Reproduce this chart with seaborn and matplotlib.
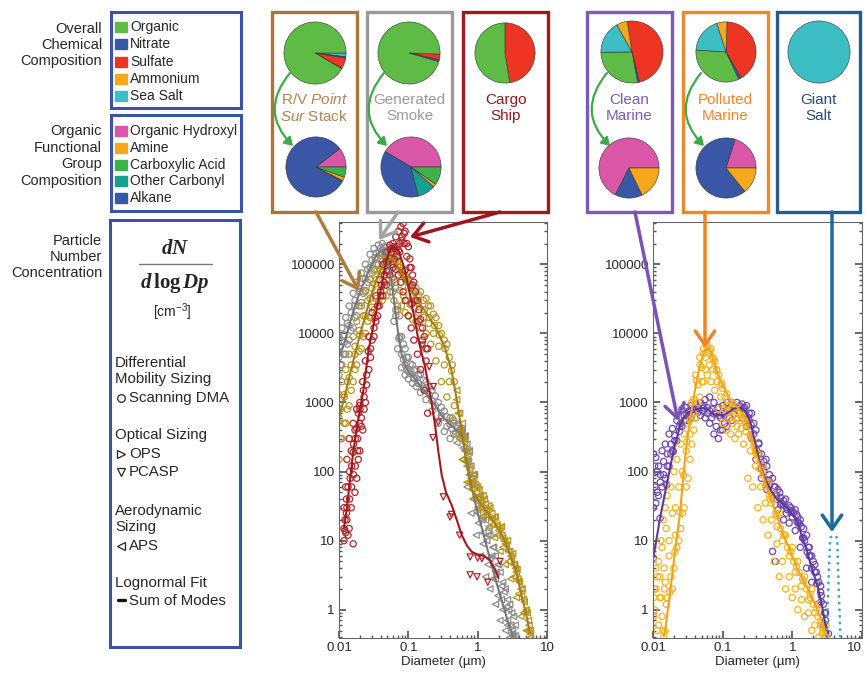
import pandas as pd
import seaborn as sns
import matplotlib.pyplot as plt
from matplotlib.patches import Rectangle, FancyArrowPatch
from matplotlib.lines import Line2D
from matplotlib.ticker import NullFormatter

# ---------------- pie chart data ----------------
overall_names = ['Organic', 'Nitrate', 'Sulfate', 'Ammonium', 'Sea Salt']
overall_colors = ['#5DBB46', '#3A57A7', '#EE3524', '#F6A81C', '#3DBEC5']
group_names = ['Organic Hydroxyl', 'Amine', 'Carboxylic Acid', 'Other Carbonyl', 'Alkane']
group_colors = ['#D957A6', '#F6A81C', '#3DB14A', '#16A08E', '#3A57A7']

# overall composition, listed clockwise from start angle: (component, percent)
rv_overall = [('Sea Salt', 2.0), ('Nitrate', 0.7), ('Sulfate', 5.5), ('Ammonium', 0.3), ('Organic', 91.5)]
smoke_overall = [('Sulfate', 3.0), ('Nitrate', 1.0), ('Organic', 96.0)]
cargo_overall = [('Sulfate', 47.5), ('Organic', 52.5)]
clean_overall = [('Sulfate', 48.6), ('Nitrate', 1.0), ('Organic', 27.8), ('Sea Salt', 17.0), ('Ammonium', 5.6)]
polluted_overall = [('Sulfate', 41.0), ('Nitrate', 1.5), ('Organic', 33.0), ('Sea Salt', 19.0), ('Ammonium', 5.5)]
salt_overall = [('Sea Salt', 100.0)]

# functional groups, listed counter-clockwise from 0 deg
rv_groups = [('Organic Hydroxyl', 10.5), ('Alkane', 81.5), ('Other Carbonyl', 0.5), ('Amine', 2.0), ('Carboxylic Acid', 5.5)]
smoke_groups = [('Organic Hydroxyl', 41.4), ('Alkane', 37.5), ('Other Carbonyl', 9.7), ('Amine', 1.7), ('Carboxylic Acid', 9.7)]
clean_groups = [('Organic Hydroxyl', 67.5), ('Alkane', 14.7), ('Amine', 17.8)]
polluted_groups = [('Organic Hydroxyl', 20.2), ('Alkane', 65.6), ('Amine', 14.2)]

# ---------------- size distributions (diameter um, dN/dlogDp cm-3) ----------------
# Generated Smoke
smoke_fit_d = [0.01, 0.012, 0.014, 0.017, 0.02, 0.024, 0.028, 0.033, 0.038, 0.043, 0.048, 0.054, 0.06, 0.066,
               0.073, 0.08, 0.09, 0.1, 0.12, 0.14, 0.17, 0.22, 0.3, 0.4, 0.5, 0.6, 0.7, 0.8, 1.0, 1.2, 1.5, 1.8,
               2.2, 2.7, 3.2]
smoke_fit_v = [4500, 7500, 13000, 25000, 40000, 62000, 90000, 125000, 150000, 160000, 130000, 80000, 40000,
               18000, 8500, 5000, 3500, 2800, 2300, 1900, 1500, 1050, 650, 480, 400, 320, 140, 65, 25, 13, 5.5,
               2.8, 1.4, 0.7, 0.42]
smoke_obs_d = [0.01, 0.011, 0.0125, 0.014, 0.016, 0.018, 0.021, 0.024, 0.028, 0.032, 0.037, 0.042, 0.048, 0.055,
               0.062, 0.07, 0.08, 0.09, 0.1, 0.115, 0.13, 0.15, 0.18, 0.22, 0.27, 0.33, 0.4, 0.5, 0.6, 0.7, 0.8,
               0.95, 1.1, 1.3, 1.5, 1.8, 2.1, 2.5, 2.9, 3.3]
smoke_obs_lo = [2500, 3500, 5000, 8000, 12000, 18000, 28000, 42000, 60000, 85000, 100000, 110000, 80000, 40000,
                15000, 6000, 3200, 2500, 2200, 1900, 1700, 1400, 1100, 750, 500, 380, 300, 260, 150, 60, 25, 12,
                6, 3, 2, 1.2, 0.7, 0.5, 0.4, 0.4]
smoke_obs_hi = [9000, 12000, 17000, 25000, 38000, 55000, 75000, 100000, 140000, 170000, 190000, 200000, 180000,
                120000, 60000, 25000, 9000, 6000, 4500, 3500, 3000, 2600, 2000, 1500, 1000, 750, 600, 500, 400,
                250, 120, 60, 35, 20, 12, 6, 3.5, 2, 1.2, 0.8]
smoke_obs2_d = [0.0105, 0.0118, 0.0132, 0.015, 0.017, 0.0195, 0.0225, 0.026, 0.03, 0.0345, 0.0395, 0.045, 0.051,
                0.058, 0.066, 0.075, 0.085, 0.095, 0.107, 0.122, 0.14, 0.165, 0.2, 0.245, 0.3, 0.36, 0.45, 0.55,
                0.65, 0.75, 0.87, 1.02, 1.2, 1.4, 1.65, 1.95, 2.3, 2.7, 3.1, 3.5]
smoke_obs2_lo = [3500, 5000, 7000, 11000, 17000, 25000, 38000, 55000, 75000, 100000, 120000, 130000, 100000,
                 55000, 22000, 9000, 4200, 3000, 2600, 2200, 1900, 1600, 1300, 900, 600, 450, 350, 300, 200, 90,
                 40, 18, 9, 4.5, 2.8, 1.6, 1.0, 0.6, 0.45, 0.42]
smoke_obs2_hi = [6500, 9500, 14000, 20000, 30000, 45000, 62000, 85000, 115000, 145000, 170000, 180000, 160000,
                 100000, 45000, 18000, 7000, 4500, 3600, 2900, 2500, 2100, 1700, 1250, 850, 620, 500, 420, 320,
                 190, 90, 42, 22, 12, 8, 4.5, 2.5, 1.4, 0.9, 0.6]
smoke_tail_d = [0.42, 0.45, 0.48, 0.52, 0.55, 0.58, 0.62, 0.66, 0.72, 0.76, 0.84, 0.9, 1.0, 1.05, 1.15, 1.25,
                1.35, 1.45, 1.6, 1.7, 1.85, 2.0, 2.2, 2.4, 2.6, 2.8, 3.0, 3.2]
smoke_tail_v = [420, 550, 350, 480, 300, 400, 220, 330, 150, 200, 70, 90, 30, 45, 20, 28, 10, 15, 6, 8, 3.5, 4.5,
                2.2, 1.8, 1.1, 1.0, 0.6, 0.5]

# R/V Point Sur stack
stack_fit_d = [0.01, 0.012, 0.014, 0.017, 0.02, 0.024, 0.028, 0.033, 0.04, 0.048, 0.055, 0.062, 0.07, 0.08, 0.09,
               0.1, 0.12, 0.14, 0.17, 0.2, 0.24, 0.28, 0.34, 0.42, 0.5, 0.6, 0.7, 0.82, 1.0, 1.14, 1.35, 1.58,
               1.9, 2.24, 2.6, 3.1, 3.5, 3.8, 4.3, 4.9, 5.7]
stack_fit_v = [600, 1200, 2300, 5000, 9500, 18000, 32000, 52000, 85000, 110000, 120000, 110000, 95000, 75000,
               60000, 48000, 36000, 28000, 22000, 17000, 13000, 9500, 6000, 2900, 1100, 330, 120, 55, 40, 33, 26,
               21, 16, 12, 8.5, 5.5, 4.0, 2.8, 1.6, 0.95, 0.45]
stack_obs_d = [0.01, 0.011, 0.0125, 0.014, 0.016, 0.018, 0.021, 0.024, 0.028, 0.032, 0.037, 0.042, 0.048, 0.055,
               0.062, 0.07, 0.08, 0.09, 0.1, 0.115, 0.13, 0.15, 0.18, 0.21, 0.25, 0.3, 0.36, 0.43, 0.5, 0.6, 0.7,
               0.85, 1.0, 1.2, 1.45, 1.75, 2.1, 2.5, 3.0, 3.6, 4.2, 5.0, 5.8]
stack_obs_lo = [150, 300, 500, 900, 2000, 3500, 6000, 10000, 17000, 22000, 28000, 30000, 35000, 40000, 30000,
                22000, 25000, 20000, 18000, 16000, 15000, 12000, 10000, 7000, 4000, 2000, 1200, 600, 350, 150, 70,
                40, 28, 22, 16, 11, 7, 4.5, 2.8, 1.5, 0.8, 0.5, 0.4]
stack_obs_hi = [1300, 2000, 3000, 5000, 9000, 15000, 25000, 40000, 60000, 80000, 100000, 120000, 140000, 150000,
                140000, 110000, 80000, 70000, 60000, 50000, 45000, 40000, 32000, 25000, 17000, 10000, 7000, 3500,
                1500, 500, 200, 90, 60, 45, 32, 22, 15, 9, 6, 3.5, 2, 1, 0.5]
stack_obs2_d = [0.0105, 0.0118, 0.0132, 0.015, 0.017, 0.0195, 0.0225, 0.026, 0.03, 0.0345, 0.0395, 0.045, 0.051,
                0.058, 0.066, 0.075, 0.085, 0.095, 0.107, 0.122, 0.14, 0.165, 0.195, 0.23, 0.275, 0.33, 0.39,
                0.46, 0.55, 0.65, 0.77, 0.92, 1.1, 1.3, 1.6, 1.9, 2.3, 2.75, 3.3, 3.9, 4.6, 5.4]
stack_obs2_lo = [300, 500, 800, 1500, 3000, 5500, 9000, 15000, 24000, 32000, 42000, 50000, 60000, 65000, 55000,
                 42000, 35000, 30000, 26000, 23000, 20000, 17000, 14000, 10000, 6500, 3500, 2000, 900, 300, 140,
                 70, 42, 30, 24, 17, 12, 8, 5, 3, 1.7, 0.9, 0.5]
stack_obs2_hi = [800, 1300, 2000, 3500, 6500, 11000, 18000, 30000, 45000, 60000, 80000, 95000, 110000, 120000,
                 115000, 90000, 70000, 60000, 50000, 42000, 36000, 30000, 25000, 19000, 13000, 8000, 4500, 2000,
                 700, 260, 110, 65, 45, 34, 25, 17, 11, 7, 4.5, 2.6, 1.4, 0.7]
stack_tail_d = [0.52, 0.56, 0.62, 0.67, 0.74, 0.8, 0.88, 0.95, 1.05, 1.12, 1.25, 1.35, 1.5, 1.65, 1.8, 2.0, 2.2,
                2.4, 2.7, 2.9, 3.2, 3.4, 3.7, 4.0, 4.4, 4.7, 5.2, 5.5]
stack_tail_v = [700, 400, 300, 160, 140, 80, 75, 50, 55, 38, 40, 28, 30, 20, 22, 14, 16, 10, 10, 7, 6.5, 4.5, 3.8,
                2.5, 2.0, 1.3, 0.9, 0.6]

# Cargo ship
cargo_fit_d = [0.0118, 0.013, 0.0145, 0.016, 0.018, 0.0201, 0.0225, 0.0265, 0.0331, 0.0413, 0.048, 0.055, 0.062,
               0.072, 0.0896, 0.112, 0.14, 0.174, 0.217, 0.243, 0.27, 0.303, 0.35, 0.42, 0.5, 0.59, 0.7, 0.82,
               1.0, 1.14, 1.3, 1.5, 1.75, 2.0]
cargo_fit_v = [15, 30, 80, 190, 420, 800, 1500, 5500, 17000, 50000, 110000, 165000, 180000, 160000, 82000, 27000,
               8000, 3300, 970, 470, 200, 89, 50, 33, 20, 12, 8.5, 6.9, 6.3, 6.2, 5.8, 5.2, 4.0, 2.9]
cargo_obs_d = [0.0118, 0.0125, 0.013, 0.014, 0.015, 0.016, 0.017, 0.018, 0.019, 0.02, 0.022, 0.024, 0.027, 0.03,
               0.034, 0.038, 0.043, 0.048, 0.054, 0.06, 0.066, 0.072, 0.078, 0.084, 0.09, 0.1, 0.11, 0.12, 0.135,
               0.15, 0.17, 0.19]
cargo_obs_lo = [10, 13, 20, 15, 30, 9, 50, 80, 150, 200, 400, 1000, 3000, 8000, 15000, 25000, 35000, 50000,
                70000, 90000, 85000, 70000, 55000, 40000, 30000, 18000, 12000, 8000, 5000, 3000, 1500, 700]
cargo_obs_hi = [30, 60, 150, 300, 200, 500, 400, 800, 700, 1000, 2000, 4000, 9000, 20000, 35000, 60000, 100000,
                150000, 190000, 200000, 250000, 300000, 350000, 390000, 300000, 180000, 90000, 55000, 30000,
                16000, 9000, 6000]
cargo_obs2_d = [0.0122, 0.0128, 0.0135, 0.0142, 0.0152, 0.0162, 0.0172, 0.0185, 0.0198, 0.021, 0.023, 0.025,
                0.0285, 0.032, 0.036, 0.04, 0.045, 0.051, 0.057, 0.063, 0.069, 0.075, 0.081, 0.087, 0.095, 0.105,
                0.115, 0.127, 0.142, 0.16, 0.18]
cargo_obs2_lo = [14, 25, 60, 40, 120, 90, 300, 200, 900, 600, 800, 1800, 4500, 9000, 18000, 35000, 55000, 80000,
                 100000, 120000, 130000, 150000, 250000, 280000, 200000, 120000, 70000, 40000, 22000, 12000, 6000]
cargo_obs2_hi = [20, 40, 12, 100, 60, 250, 120, 300, 500, 450, 1200, 2500, 6000, 12000, 25000, 40000, 70000,
                 110000, 150000, 170000, 180000, 200000, 220000, 200000, 130000, 90000, 50000, 30000, 15000, 8000,
                 4000]
cargo_pcasp_d = [0.16, 0.2, 0.23, 0.227, 0.27, 0.32, 0.4, 0.42, 0.55, 0.78, 0.78, 0.98, 1.0, 1.15, 1.4, 2.1]
cargo_pcasp_v = [6800, 3300, 1700, 310, 520, 43, 22, 24, 12, 5.8, 3.2, 3.0, 5.6, 5.5, 2.5, 5.0]

# Clean marine
clean_fit_d = [0.0101, 0.0126, 0.0157, 0.0196, 0.025, 0.03, 0.035, 0.045, 0.054, 0.065, 0.075, 0.09, 0.105,
               0.125, 0.146, 0.175, 0.2, 0.235, 0.255, 0.31, 0.36, 0.43, 0.5, 0.6, 0.75, 0.95, 1.17, 1.4, 1.63,
               1.9, 2.25, 2.6, 3.0, 3.3]
clean_fit_v = [5.6, 21, 64, 195, 500, 680, 760, 820, 830, 760, 680, 650, 660, 740, 820, 840, 800, 600, 480, 200,
               110, 70, 52, 40, 33, 26, 19, 11, 6.9, 4.0, 2.4, 1.3, 0.6, 0.45]
clean_obs_d = [0.0102, 0.011, 0.012, 0.0135, 0.015, 0.017, 0.019, 0.022, 0.026, 0.03, 0.035, 0.041, 0.048, 0.056,
               0.065, 0.075, 0.087, 0.1, 0.115, 0.135, 0.16, 0.19, 0.22, 0.26, 0.3, 0.36, 0.43, 0.52, 0.62, 0.75,
               0.9, 1.1, 1.3, 1.6, 1.9, 2.3, 2.8]
clean_obs_lo = [30, 35, 45, 60, 80, 120, 200, 280, 450, 550, 600, 600, 650, 600, 500, 350, 300, 400, 450, 550,
                600, 600, 450, 300, 150, 80, 55, 7, 28, 20, 18, 14, 8, 4, 2.5, 1.2, 0.6]
clean_obs_hi = [180, 160, 120, 200, 250, 350, 420, 550, 800, 850, 900, 950, 1000, 1100, 1200, 1000, 850, 900,
                1000, 1000, 1000, 950, 900, 700, 400, 180, 120, 80, 55, 38, 32, 28, 20, 12, 6, 3, 1.2]
clean_obs2_d = [0.0106, 0.0115, 0.0127, 0.0142, 0.016, 0.018, 0.0205, 0.024, 0.028, 0.0325, 0.038, 0.0445, 0.052,
                0.06, 0.07, 0.081, 0.093, 0.107, 0.125, 0.147, 0.175, 0.205, 0.24, 0.28, 0.33, 0.39, 0.47, 0.57,
                0.68, 0.82, 1.0, 1.2, 1.45, 1.75, 2.1, 2.55, 3.0]
clean_obs2_lo = [60, 50, 70, 90, 120, 180, 280, 380, 550, 650, 700, 720, 750, 700, 600, 450, 400, 500, 600, 680,
                 700, 700, 550, 350, 180, 100, 65, 5, 33, 25, 22, 18, 11, 6, 3.5, 1.8, 0.7]
clean_obs2_hi = [120, 100, 90, 140, 180, 250, 330, 450, 650, 750, 800, 850, 900, 850, 800, 700, 600, 700, 800,
                 850, 900, 850, 700, 500, 260, 140, 90, 60, 42, 30, 27, 22, 15, 8, 4.5, 2.2, 0.9]
clean_tail_d = [0.33, 0.38, 0.42, 0.46, 0.55, 0.6, 0.66, 0.7, 0.8, 0.85, 0.95, 1.05, 1.15, 1.25, 1.35, 1.5, 1.7,
                1.8, 2.0, 2.2, 2.4, 2.6, 2.9]
clean_tail_v = [250, 120, 150, 75, 60, 45, 50, 35, 40, 28, 30, 25, 24, 18, 16, 10, 8, 6, 5, 3.5, 2.5, 1.6, 0.9]

# Polluted marine
polluted_fit_d = [0.0143, 0.0149, 0.0176, 0.0207, 0.0245, 0.0273, 0.0306, 0.0341, 0.038, 0.0424, 0.0475, 0.0529,
                  0.0593, 0.066, 0.073, 0.082, 0.097, 0.115, 0.135, 0.16, 0.2, 0.248, 0.3, 0.38, 0.47, 0.6, 0.75,
                  0.94, 1.15, 1.45, 1.8, 2.25, 2.6, 3.0]
polluted_fit_v = [0.41, 0.49, 1.8, 6.9, 26, 89, 270, 560, 1100, 2100, 3500, 5100, 6300, 5600, 4300, 2900, 1900,
                  1340, 1000, 870, 650, 340, 180, 89, 45, 23, 12, 6.9, 4.2, 2.6, 1.7, 1.05, 0.7, 0.45]
polluted_obs_d = [0.0102, 0.011, 0.012, 0.013, 0.014, 0.015, 0.016, 0.018, 0.02, 0.022, 0.025, 0.028, 0.032,
                  0.036, 0.041, 0.047, 0.053, 0.06, 0.068, 0.077, 0.088, 0.1, 0.115, 0.13, 0.15, 0.17, 0.2, 0.23,
                  0.27, 0.32, 0.38, 0.45, 0.55, 0.65, 0.8, 1.0, 1.2, 1.5, 1.9, 2.4, 3.0]
polluted_obs_lo = [0.8, 2, 0.6, 1.5, 0.5, 2.5, 1.5, 3, 4, 8, 15, 30, 80, 250, 600, 1200, 2000, 2500, 2000, 1500,
                   800, 500, 400, 350, 300, 350, 250, 80, 60, 30, 20, 12, 5, 3, 2, 1.5, 1, 0.8, 0.5, 0.4, 0.4]
polluted_obs_hi = [1.5, 4, 5, 10, 20, 30, 45, 60, 100, 150, 250, 350, 500, 1000, 2500, 4500, 6000, 6800, 6000,
                   4000, 2500, 1600, 900, 800, 700, 700, 600, 500, 300, 180, 120, 70, 40, 25, 12, 8, 5, 3, 2, 1.2,
                   0.6]
polluted_obs2_d = [0.0105, 0.0115, 0.0125, 0.0135, 0.0145, 0.0155, 0.017, 0.019, 0.021, 0.0235, 0.0265, 0.03,
                   0.034, 0.0385, 0.044, 0.05, 0.0565, 0.064, 0.072, 0.082, 0.094, 0.107, 0.122, 0.14, 0.16,
                   0.185, 0.215, 0.25, 0.295, 0.35, 0.41, 0.5, 0.6, 0.72, 0.9, 1.1, 1.35, 1.7, 2.1, 2.7]
polluted_obs2_lo = [1, 0.5, 3, 0.8, 4, 1.2, 6, 2, 12, 10, 25, 60, 150, 400, 1000, 2000, 3000, 3500, 3000, 2000,
                    1200, 800, 600, 500, 450, 420, 380, 200, 120, 60, 35, 20, 9, 5, 3, 2, 1.4, 0.9, 0.6, 0.45]
polluted_obs2_hi = [2, 3, 1.5, 8, 2, 15, 10, 25, 30, 60, 100, 200, 350, 700, 1800, 3200, 4500, 5200, 4500, 3000,
                    1800, 1200, 750, 650, 600, 550, 500, 320, 200, 110, 60, 35, 16, 10, 6, 3.5, 2.2, 1.4, 0.9,
                    0.55]
polluted_tail_d = [0.28, 0.31, 0.34, 0.42, 0.48, 0.52, 0.58, 0.68, 0.76, 0.85, 0.95, 1.05, 1.25, 1.4, 1.6, 1.8,
                   2.0, 2.3, 2.6, 2.8]
polluted_tail_v = [250, 150, 110, 70, 40, 50, 25, 15, 12, 8, 7, 5, 3.5, 2.8, 2.0, 1.5, 1.2, 0.8, 0.6, 0.5]

# Giant salt
salt_fit_d = [3.1, 3.3, 3.5, 3.9, 4.4, 4.6, 4.9]
salt_fit_v = [0.4, 2.5, 11, 12, 11, 2.5, 0.4]

marker_pal = {'Generated Smoke': '#8C8C8C', 'R/V Stack': '#B8951F', 'Cargo Ship': '#B0252B',
              'Clean Marine': '#6E46B0', 'Polluted Marine': '#F7B41B'}
line_pal = {'Generated Smoke': '#777777', 'R/V Stack': '#A47E16', 'Cargo Ship': '#9E1A1F',
            'Clean Marine': '#5B3A9A', 'Polluted Marine': '#F0A418', 'Giant Salt': '#3FA9BB'}
inst_markers = {'DMA': 'o', 'PCASP': 'v', 'APS': '<', 'OPS': '>'}

# ---------------- figure setup ----------------
sns.set_theme(style='ticks')
plt.rcParams['font.family'] = ['Liberation Sans', 'DejaVu Sans']
plt.rcParams['mathtext.fontset'] = 'custom'
plt.rcParams['mathtext.rm'] = 'Liberation Sans'
plt.rcParams['mathtext.it'] = 'Liberation Sans:italic'
plt.rcParams['mathtext.bf'] = 'Liberation Serif:bold:italic'
plt.rcParams['mathtext.sf'] = 'Liberation Serif:bold'

W, H = 866, 675
fig = plt.figure(figsize=(W / 100, H / 100), dpi=100)


def fx(x):
    return x / W


def fy(y):
    return 1 - y / H


def frame(d, v, name, inst=None):
    df = pd.DataFrame({'diameter': d, 'conc': v, 'source': name})
    if inst is None:
        df['instrument'] = ['DMA' if x < 0.5 else 'APS' for x in d]
    else:
        df['instrument'] = inst
    return df


def obs_frame(name, fit, obs, obs2, tail=None, inst=None):
    parts = [frame(fit[0], fit[1], name, inst)]
    for d, lo, hi in (obs, obs2):
        parts.append(frame(d, lo, name, inst))
        parts.append(frame(d, hi, name, inst))
    if tail is not None:
        parts.append(frame(tail[0], tail[1], name, inst))
    return pd.concat(parts)


def setup_axes(ax):
    ax.set_xscale('log')
    ax.set_yscale('log')
    ax.set_xlim(0.01, 10)
    ax.set_ylim(0.39, 4.1e5)
    ax.set_xticks([0.01, 0.1, 1, 10])
    ax.set_xticklabels(['0.01', '0.1', '1', '10'])
    ax.set_yticks([1, 10, 100, 1000, 10000, 100000])
    ax.set_yticklabels(['1', '10', '100', '1000', '10000', '100000'])
    ax.xaxis.set_minor_formatter(NullFormatter())
    ax.yaxis.set_minor_formatter(NullFormatter())
    ax.tick_params(which='both', direction='in', right=True, top=False, color='#555555', labelsize=9.5, pad=3)
    ax.tick_params(which='major', length=5)
    ax.tick_params(which='minor', length=2.5)
    for s in ax.spines.values():
        s.set_color('#666666')
        s.set_linewidth(0.8)
        s.set_visible(True)
    ax.set_xlabel('Diameter (µm)', fontsize=9.5, labelpad=1)
    ax.set_ylabel('')


def hollow(ax):
    coll = ax.collections[-1]
    coll.set_edgecolors(coll.get_facecolors())
    coll.set_facecolors('none')
    coll.set_linewidths(0.9)


# ---------------- left size distribution panel ----------------
ax1 = fig.add_axes([fx(339), fy(638), 208 / W, 416 / H])
setup_axes(ax1)
left_obs = pd.concat([
    obs_frame('Generated Smoke', (smoke_fit_d, smoke_fit_v), (smoke_obs_d, smoke_obs_lo, smoke_obs_hi),
              (smoke_obs2_d, smoke_obs2_lo, smoke_obs2_hi), (smoke_tail_d, smoke_tail_v)),
    obs_frame('R/V Stack', (stack_fit_d, stack_fit_v), (stack_obs_d, stack_obs_lo, stack_obs_hi),
              (stack_obs2_d, stack_obs2_lo, stack_obs2_hi), (stack_tail_d, stack_tail_v)),
    obs_frame('Cargo Ship', (cargo_fit_d[:16], cargo_fit_v[:16]), (cargo_obs_d, cargo_obs_lo, cargo_obs_hi),
              (cargo_obs2_d, cargo_obs2_lo, cargo_obs2_hi), inst='DMA'),
    frame(cargo_pcasp_d, cargo_pcasp_v, 'Cargo Ship', 'PCASP'),
], ignore_index=True)
sns.scatterplot(data=left_obs, x='diameter', y='conc', hue='source', style='instrument', markers=inst_markers,
                palette=marker_pal, s=20, legend=False, ax=ax1)
hollow(ax1)
left_fit = pd.concat([frame(smoke_fit_d, smoke_fit_v, 'Generated Smoke'),
                      frame(stack_fit_d, stack_fit_v, 'R/V Stack'),
                      frame(cargo_fit_d, cargo_fit_v, 'Cargo Ship')], ignore_index=True)
sns.lineplot(data=left_fit, x='diameter', y='conc', hue='source', palette=line_pal, estimator=None, sort=False,
             lw=1.5, legend=False, ax=ax1)
setup_axes(ax1)

# ---------------- right size distribution panel ----------------
ax2 = fig.add_axes([fx(653), fy(638), 209 / W, 416 / H])
setup_axes(ax2)
right_obs = pd.concat([
    obs_frame('Clean Marine', (clean_fit_d, clean_fit_v), (clean_obs_d, clean_obs_lo, clean_obs_hi),
              (clean_obs2_d, clean_obs2_lo, clean_obs2_hi), (clean_tail_d, clean_tail_v), inst='DMA'),
    obs_frame('Polluted Marine', (polluted_fit_d, polluted_fit_v),
              (polluted_obs_d, polluted_obs_lo, polluted_obs_hi),
              (polluted_obs2_d, polluted_obs2_lo, polluted_obs2_hi), (polluted_tail_d, polluted_tail_v),
              inst='DMA'),
], ignore_index=True)
sns.scatterplot(data=right_obs, x='diameter', y='conc', hue='source', style='instrument', markers=inst_markers,
                palette=marker_pal, s=20, legend=False, ax=ax2)
hollow(ax2)
right_fit = pd.concat([frame(clean_fit_d, clean_fit_v, 'Clean Marine'),
                       frame(polluted_fit_d, polluted_fit_v, 'Polluted Marine')], ignore_index=True)
sns.lineplot(data=right_fit, x='diameter', y='conc', hue='source', palette=line_pal, estimator=None, sort=False,
             lw=1.5, legend=False, ax=ax2)
sns.lineplot(x=salt_fit_d, y=salt_fit_v, color=line_pal['Giant Salt'], estimator=None, sort=False, lw=1.8,
             linestyle=':', ax=ax2)
setup_axes(ax2)
ax2.get_xticklabels()[-1].set_horizontalalignment('right')


# ---------------- boxes, pies, labels ----------------
def box(x0, y0, x1, y1, color, lw=2.2):
    fig.add_artist(Rectangle((fx(x0), fy(y1)), (x1 - x0) / W, (y1 - y0) / H, fill=False, edgecolor=color,
                             linewidth=lw, transform=fig.transFigure))


def pie(cx, cy, r, parts, names, colors, start, clockwise):
    pa = fig.add_axes([fx(cx - r), fy(cy + r), 2 * r / W, 2 * r / H])
    vals = [p[1] for p in parts]
    cols = [colors[names.index(p[0])] for p in parts]
    pa.pie(vals, colors=cols, startangle=start, counterclock=not clockwise,
           wedgeprops=dict(edgecolor='#333333', linewidth=0.4))
    pa.set_xlim(-1.03, 1.03)
    pa.set_ylim(-1.03, 1.03)
    pa.axis('off')


def arrow(p0, p1, color, lw=2.5, rad=0.0, head='->,head_length=0.5,head_width=0.35', ms=20):
    fig.add_artist(FancyArrowPatch((fx(p0[0]), fy(p0[1])), (fx(p1[0]), fy(p1[1])), transform=fig.transFigure,
                                   arrowstyle=head, mutation_scale=ms, color=color, lw=lw,
                                   connectionstyle=f'arc3,rad={rad}', shrinkA=0, shrinkB=0))


legend_blue = '#3B53A5'
box(111, 12, 241, 108, legend_blue)
box(111, 115, 241, 211, legend_blue)
box(110, 220, 240, 647, legend_blue)

fig.text(fx(102), fy(45), 'Overall\nChemical\nComposition', ha='right', va='center', fontsize=10.5,
         linespacing=1.22)
fig.text(fx(102), fy(156), 'Organic\nFunctional\nGroup\nComposition', ha='right', va='center', fontsize=10.5,
         linespacing=1.22)
fig.text(fx(102), fy(257), 'Particle\nNumber\nConcentration', ha='right', va='center', fontsize=10.5,
         linespacing=1.22)

for i, (name, col) in enumerate(zip(overall_names, overall_colors)):
    y = 27 + i * 17.3
    fig.add_artist(Rectangle((fx(115), fy(y + 5)), 12 / W, 10 / H, color=col, transform=fig.transFigure))
    fig.text(fx(130), fy(y), name, va='center', fontsize=10)
for i, (name, col) in enumerate(zip(group_names, group_colors)):
    y = 131 + i * 16.8
    fig.add_artist(Rectangle((fx(115), fy(y + 5)), 12 / W, 10 / H, color=col, transform=fig.transFigure))
    fig.text(fx(130), fy(y), name, va='center', fontsize=10)

fig.text(fx(175), fy(248), r'$\mathbf{dN}$', ha='center', va='center', fontsize=15)
fig.add_artist(Line2D([fx(139), fx(212)], [fy(264), fy(264)], color='#777777', lw=1, transform=fig.transFigure))
fig.text(fx(175), fy(283), r'$\mathbf{d}\,\mathsf{log}\,\mathbf{Dp}$', ha='center', va='center', fontsize=15)
fig.text(fx(172), fy(312), r'[cm$^{-3}$]', ha='center', va='center', fontsize=10)

legend_fs = 10.8
fig.text(fx(115), fy(371), 'Differential\nMobility Sizing', va='center', fontsize=legend_fs, linespacing=1.2)
fig.text(fx(129), fy(398), 'Scanning DMA', va='center', fontsize=legend_fs)
fig.text(fx(115), fy(435), 'Optical Sizing', va='center', fontsize=legend_fs)
fig.text(fx(129), fy(454), 'OPS', va='center', fontsize=legend_fs)
fig.text(fx(129), fy(472), 'PCASP', va='center', fontsize=legend_fs)
fig.text(fx(115), fy(519), 'Aerodynamic\nSizing', va='center', fontsize=legend_fs, linespacing=1.2)
fig.text(fx(129), fy(546), 'APS', va='center', fontsize=legend_fs)
fig.text(fx(115), fy(583), 'Lognormal Fit', va='center', fontsize=legend_fs)
fig.text(fx(129), fy(601), 'Sum of Modes', va='center', fontsize=legend_fs)
for y, m in [(398, 'o'), (454, '>'), (472, 'v'), (546, '<')]:
    fig.add_artist(Line2D([fx(121)], [fy(y)], marker=m, ms=5.5, mfc='none', mec='#222222', mew=0.9,
                          transform=fig.transFigure))
fig.add_artist(Line2D([fx(117.5), fx(124.5)], [fy(600), fy(600)], color='#111111', lw=2.4,
                      transform=fig.transFigure))

# source boxes
sources = [
    (272, 357, '#A8763A', 'R/V $\\mathit{Point}$\n$\\mathit{Sur}$ Stack', '#AD8550'),
    (367, 452, '#9A9A9A', 'Generated\nSmoke', '#9A9A9A'),
    (463, 548, '#9B1B1E', 'Cargo\nShip', '#8B1A1A'),
    (587, 672, '#7B5BB5', 'Clean\nMarine', '#7B5BB5'),
    (683, 768, '#F0882A', 'Polluted\nMarine', '#F0882A'),
    (777, 860, '#1F5E94', 'Giant\nSalt', '#2A4A7A'),
]
for x0, x1, bc, label, tc in sources:
    box(x0, 12, x1, 212, bc, lw=2.4)
    fig.text(fx((x0 + x1) / 2), fy(108), label, ha='center', va='center', fontsize=11, color=tc,
             linespacing=1.15)

pie(315, 53, 32, rv_overall, overall_names, overall_colors, 0, True)
pie(409, 53, 32, smoke_overall, overall_names, overall_colors, -2, True)
pie(505, 53, 31, cargo_overall, overall_names, overall_colors, 90, True)
pie(632, 52, 32, clean_overall, overall_names, overall_colors, 99, True)
pie(726, 52, 31, polluted_overall, overall_names, overall_colors, 88, True)
pie(819, 52, 32, salt_overall, overall_names, overall_colors, 90, True)
pie(316, 167, 31, rv_groups, group_names, group_colors, 0, False)
pie(411, 167, 31, smoke_groups, group_names, group_colors, 0, False)
pie(629, 168, 31, clean_groups, group_names, group_colors, 0, False)
pie(726, 168, 31, polluted_groups, group_names, group_colors, 0, False)

# green curved arrows from overall pie to functional group pie
for cx in [315, 409, 632, 726]:
    arrow((cx - 25, 73), (cx - 22, 146), '#3DAA4A', lw=1.6, rad=0.45,
          head='-|>,head_length=0.4,head_width=0.25', ms=12)

# arrows from the source boxes to the distributions
arrow((316, 212), (359, 291), '#B07D3E')
arrow((398, 212), (379, 240), '#A5A5A5')
arrow((500, 212), (410, 237), '#A0141E')
arrow((635, 212), (678, 421), '#7B52B5')
arrow((705, 212), (705, 348), '#EE8424')
arrow((832, 212), (832, 532), '#1A6AA0')

fig.savefig('out.png', dpi=100)
